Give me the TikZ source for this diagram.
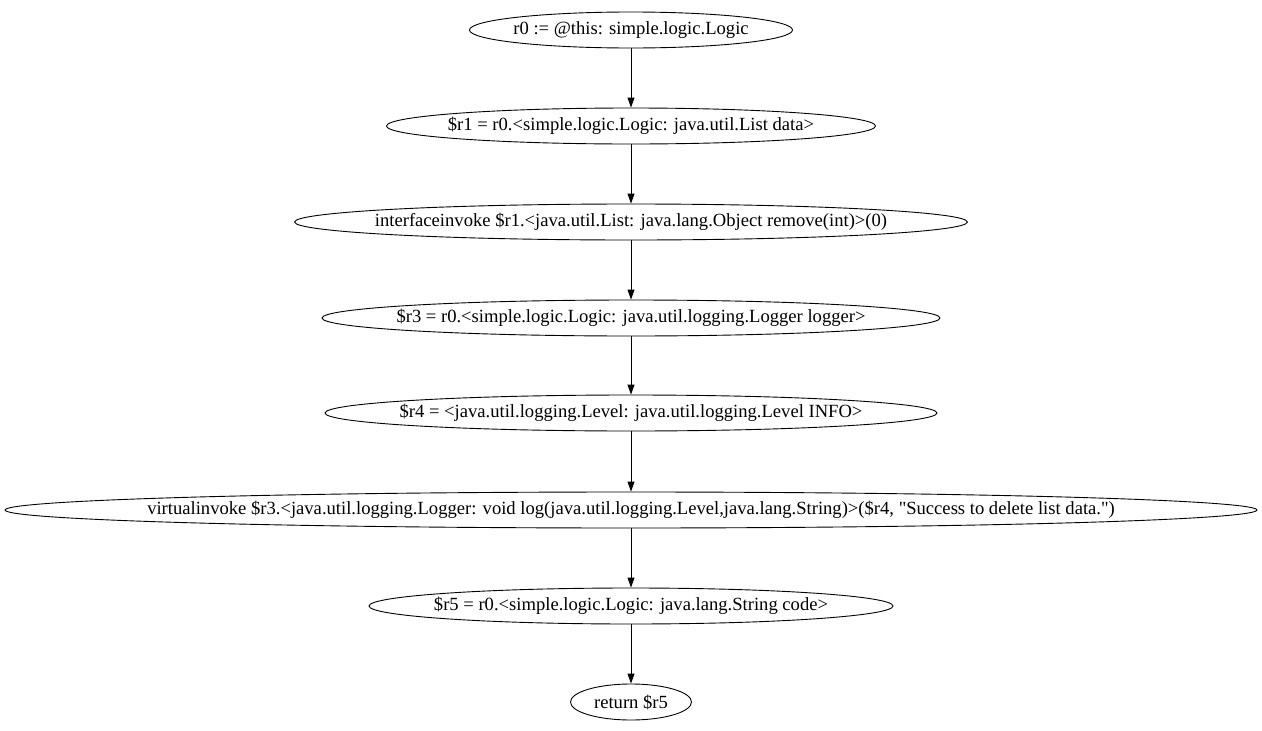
\documentclass[tikz,border=0pt]{standalone}
\usepackage{fontspec}
\setmainfont{Liberation Serif}
\usepackage{tikz}
\usetikzlibrary{arrows.meta, shapes.geometric}

% text that does not widen its ellipse
\newcommand{\stmttext}[1]{\makebox[0pt]{#1}}

\begin{document}
\begin{tikzpicture}[x=1pt, y=1pt,
    stmt/.style={ellipse, draw, line width=0.9pt, inner sep=0pt, minimum height=36pt,
                 font=\fontsize{18.6}{21}\selectfont},
    flow/.style={-{Triangle[length=10pt, width=7pt]}, line width=0.9pt}]
    \useasboundingbox (0,0) rectangle (1262,-731);

    % Statements of the method body
    \node[stmt, minimum width=323pt] (s0) at (631,-30) {\stmttext{r0 := @this: simple.logic.Logic}};
    \node[stmt, minimum width=489pt] (s1) at (631,-126) {\stmttext{\$r1 = r0.<simple.logic.Logic: java.util.List data>}};
    \node[stmt, minimum width=673pt] (s2) at (631,-222) {\stmttext{interfaceinvoke \$r1.<java.util.List: java.lang.Object remove(int)>(0)}};
    \node[stmt, minimum width=618pt] (s3) at (631,-318) {\stmttext{\$r3 = r0.<simple.logic.Logic: java.util.logging.Logger logger>}};
    \node[stmt, minimum width=612pt] (s4) at (631,-413) {\stmttext{\$r4 = <java.util.logging.Level: java.util.logging.Level INFO>}};
    \node[stmt, minimum width=1252pt] (s5) at (631,-510) {\stmttext{virtualinvoke \$r3.<java.util.logging.Logger: void log(java.util.logging.Level,java.lang.String)>(\$r4, \textquotedbl Success to delete list data.\textquotedbl)}};
    \node[stmt, minimum width=524pt] (s6) at (631,-606) {\stmttext{\$r5 = r0.<simple.logic.Logic: java.lang.String code>}};
    \node[stmt, minimum width=121pt] (s7) at (631,-702) {\stmttext{return \$r5}};

    % Control flow
    \draw[flow] (s0) -- (s1);
    \draw[flow] (s1) -- (s2);
    \draw[flow] (s2) -- (s3);
    \draw[flow] (s3) -- (s4);
    \draw[flow] (s4) -- (s5);
    \draw[flow] (s5) -- (s6);
    \draw[flow] (s6) -- (s7);
\end{tikzpicture}
\end{document}
